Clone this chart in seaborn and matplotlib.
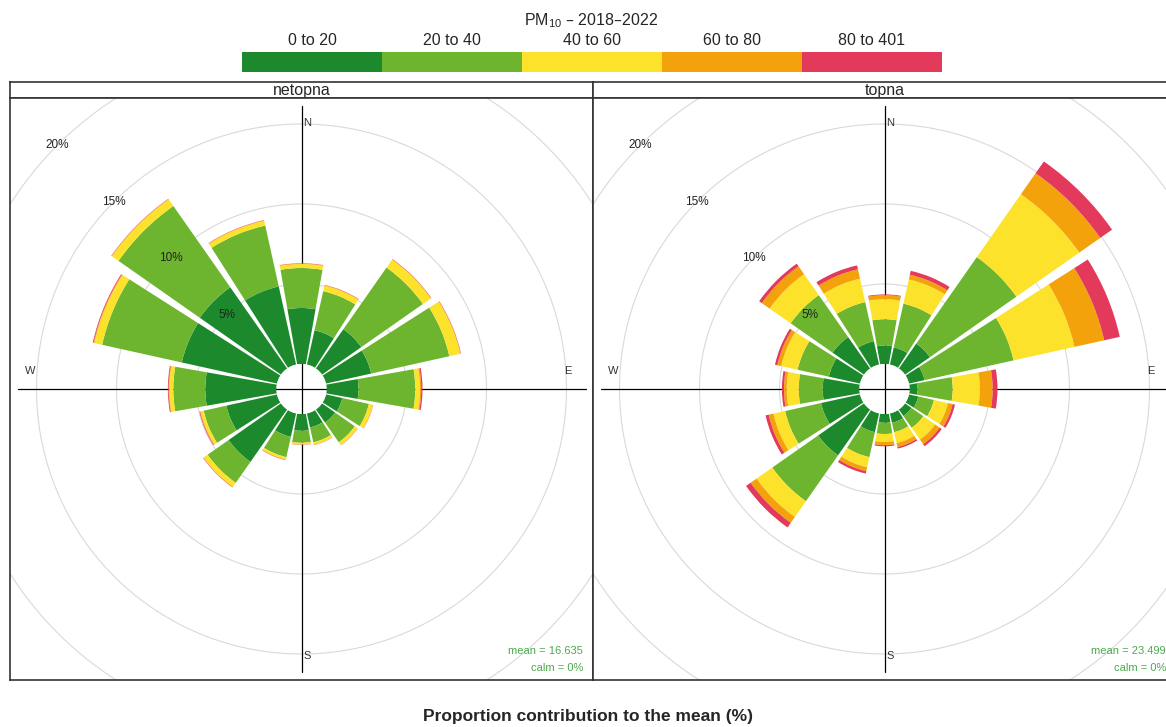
import numpy as np
import matplotlib
matplotlib.use("Agg")
import matplotlib.pyplot as plt
from matplotlib.colors import ListedColormap
import seaborn as sns

# wind sectors (degrees) and concentration bands
directions = [0, 22.5, 45, 67.5, 90, 112.5, 135, 157.5,
              180, 202.5, 225, 247.5, 270, 292.5, 315, 337.5]
band_labels = ["0 to 20", "20 to 40", "40 to 60", "60 to 80", "80 to 401"]
band_colors = ["#1c8a2c", "#6db52f", "#fde22b", "#f4a20c", "#e3395a"]
ring_values = [5, 10, 15, 20, 25]
ring_labels = [5, 10, 15, 20]

# netopna - contribution (%) of each band per sector
netopna_0_20 = [3.5, 2.2, 3.0, 2.9, 2.0, 1.05, 1.0, 0.9, 1.05, 1.5, 4.0, 3.25, 4.45, 6.1, 6.2, 5.0]
netopna_20_40 = [2.5, 2.5, 4.7, 5.0, 3.55, 1.7, 1.5, 0.95, 0.75, 1.3, 1.6, 1.45, 2.0, 5.1, 6.2, 3.9]
netopna_40_60 = [0.25, 0.35, 0.6, 0.7, 0.3, 0.25, 0.2, 0.15, 0.1, 0.15, 0.3, 0.2, 0.25, 0.5, 0.5, 0.3]
netopna_60_80 = [0.03, 0.03, 0.03, 0.03, 0.07, 0.02, 0.02, 0.02, 0.02, 0.02, 0.03, 0.03, 0.04, 0.05, 0.03, 0.03]
netopna_80_401 = [0.02, 0.02, 0.02, 0.02, 0.08, 0.01, 0.01, 0.01, 0.01, 0.02, 0.02, 0.04, 0.05, 0.05, 0.02, 0.02]

# topna
topna_0_20 = [1.15, 1.1, 1.9, 1.0, 0.5, 0.6, 0.5, 0.6, 0.55, 1.2, 3.5, 2.5, 2.3, 2.0, 2.4, 1.5]
topna_20_40 = [1.65, 2.8, 6.6, 5.7, 2.2, 1.0, 0.9, 0.6, 0.7, 1.6, 3.5, 2.3, 1.5, 2.0, 3.2, 2.5]
topna_40_60 = [1.25, 1.55, 4.8, 3.9, 1.7, 0.9, 0.9, 0.7, 0.5, 0.65, 1.2, 0.75, 0.75, 1.05, 1.6, 1.5]
topna_60_80 = [0.25, 0.3, 1.6, 1.9, 0.8, 0.3, 0.35, 0.25, 0.2, 0.25, 0.45, 0.3, 0.17, 0.25, 0.6, 0.6]
topna_80_401 = [0.05, 0.25, 0.9, 1.0, 0.3, 0.15, 0.15, 0.1, 0.07, 0.15, 0.35, 0.2, 0.13, 0.15, 0.2, 0.25]

panels = [
    ("netopna", [netopna_0_20, netopna_20_40, netopna_40_60, netopna_60_80, netopna_80_401],
     "mean = 16.635", "calm = 0%", 10),
    ("topna", [topna_0_20, topna_20_40, topna_40_60, topna_60_80, topna_80_401],
     "mean = 23.499", "calm = 0%", 593),
]

sns.set_theme(style="white")
plt.rcParams["font.family"] = ["Liberation Sans", "DejaVu Sans"]
plt.rcParams["mathtext.default"] = "regular"

W, H = 1166, 727
fig = plt.figure(figsize=(W / 100, H / 100), dpi=100)


def rect(x0, y0, x1, y1):
    # pixel box (top-left origin) -> figure fraction
    return [x0 / W, 1 - y1 / H, (x1 - x0) / W, (y1 - y0) / H]


HOLE = 25.0      # px radius of the empty centre
PX_PCT = 16.0    # px per 1 %
RMAX = 20.0
PANEL_W = 583
TOP, STRIP, BOTTOM = 82, 98, 680

for name, bands, mean_txt, calm_txt, x0 in panels:
    cx = x0 + PANEL_W / 2
    cy = (STRIP + BOTTOM) / 2

    # strip header
    sax = fig.add_axes(rect(x0, TOP, x0 + PANEL_W, STRIP))
    sax.set_xticks([])
    sax.set_yticks([])
    for s in sax.spines.values():
        s.set_color("#333333")
        s.set_linewidth(1.2)
    sax.text(0.5, 0.45, name, ha="center", va="center", fontsize=11.5, transform=sax.transAxes)

    # panel body in pixel offsets from the rose centre
    pax = fig.add_axes(rect(x0, STRIP, x0 + PANEL_W, BOTTOM))
    pax.set_xlim(x0 - cx, x0 + PANEL_W - cx)
    pax.set_ylim(cy - BOTTOM, cy - STRIP)
    pax.set_xticks([])
    pax.set_yticks([])
    for s in pax.spines.values():
        s.set_color("#333333")
        s.set_linewidth(1.2)
    t = np.linspace(0, 2 * np.pi, 400)
    for p in ring_values:
        r = HOLE + PX_PCT * p
        pax.plot(r * np.cos(t), r * np.sin(t), color="#d9d9d9", lw=0.8)
    pax.plot([0, 0], [-283, 283], color="black", lw=0.9)
    pax.plot([-284, 284], [0, 0], color="black", lw=0.9)
    pax.text(6, 266, "N", fontsize=8, ha="center", va="center", color="#333333")
    pax.text(6, -267, "S", fontsize=8, ha="center", va="center", color="#333333")
    pax.text(266, 18, "E", fontsize=8, ha="center", va="center", color="#333333")
    pax.text(-271, 18, "W", fontsize=8, ha="center", va="center", color="#333333")
    pax.text(PANEL_W / 2 - 10, cy - 651, mean_txt, fontsize=8, ha="right", va="center", color="#4caa4c")
    pax.text(PANEL_W / 2 - 10, cy - 668, calm_txt, fontsize=8, ha="right", va="center", color="#4caa4c")

    # polar overlay holding the stacked bars
    R = PX_PCT * (RMAX + HOLE / PX_PCT)
    rax = fig.add_axes(rect(cx - R, cy - R, cx + R, cy + R), projection="polar")
    rax.set_theta_zero_location("N")
    rax.set_theta_direction(-1)
    rax.set_ylim(0, RMAX)
    rax.set_rorigin(-HOLE / PX_PCT)
    rax.set_axis_off()
    theta = np.deg2rad(directions)
    bottom = np.zeros(len(directions))
    for vals, col in zip(bands, band_colors):
        rax.bar(theta, vals, width=np.deg2rad(20), bottom=bottom, color=col, linewidth=0)
        bottom = bottom + np.array(vals)
    for p in ring_labels:
        rax.text(np.deg2rad(315), p, f"{p}%", fontsize=8.5, ha="center", va="center", color="#222222")

# colour key
kax = fig.add_axes(rect(242, 52, 942, 72))
sns.heatmap(np.arange(len(band_labels)).reshape(1, -1), cmap=ListedColormap(band_colors),
            cbar=False, ax=kax, xticklabels=band_labels, yticklabels=False, linewidths=0)
kax.xaxis.set_ticks_position("top")
kax.tick_params(axis="x", length=0, labelsize=11.5, pad=3, labeltop=True, labelbottom=False)
plt.setp(kax.get_xticklabels(), rotation=0)

fig.text(591 / W, 1 - 21 / H, r"PM$_{10}$ – 2018–2022", fontsize=11.5, ha="center", va="center")
fig.text(588 / W, 1 - 717 / H, "Proportion contribution to the mean (%)",
         fontsize=12.5, fontweight="bold", ha="center", va="center")

fig.savefig("out.png", dpi=100)
